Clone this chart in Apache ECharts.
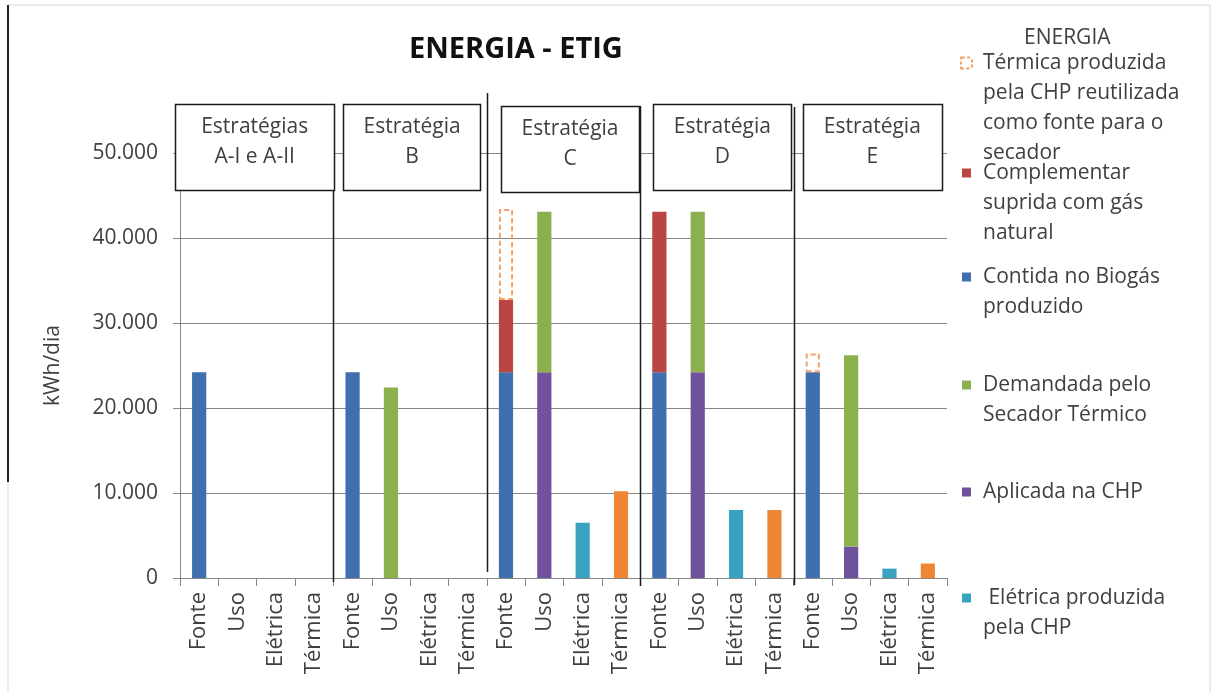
<!DOCTYPE html>
<html>
<head>
<meta charset="utf-8">
<script src="https://cdn.jsdelivr.net/npm/echarts@6/dist/echarts.min.js"></script>
<style>
html,body{margin:0;padding:0;background:#fff;}
#chart{width:1215px;height:693px;}
</style>
</head>
<body>
<div id="chart"></div>
<script>
// ---- data ----
const categories = ['Fonte','Uso','Elétrica','Térmica','Fonte','Uso','Elétrica','Térmica','Fonte','Uso','Elétrica','Térmica','Fonte','Uso','Elétrica','Térmica','Fonte','Uso','Elétrica','Térmica'];
const groupLabels = ['Estratégias\nA-I e A-II','Estratégia\nB','Estratégia\nC','Estratégia\nD','Estratégia\nE'];
const yTicks = [0, 10000, 20000, 30000, 40000, 50000];

const contidaBiogas   = [24200,'-','-','-', 24200,'-','-','-', 24200,'-','-','-', 24200,'-','-','-', 24200,'-','-','-'];
const aplicadaCHP     = ['-','-','-','-', '-','-','-','-', '-',24200,'-','-', '-',24200,'-','-', '-',3700,'-','-'];
const complementar    = ['-','-','-','-', '-','-','-','-', 8500,'-','-','-', 18900,'-','-','-', '-','-','-','-'];
const demandada       = ['-','-','-','-', '-',22400,'-','-', '-',18900,'-','-', '-',18900,'-','-', '-',22500,'-','-'];
const reutilizada     = ['-','-','-','-', '-','-','-','-', 10700,'-','-','-', '-','-','-','-', 2200,'-','-','-'];
const eletrica        = ['-','-','-','-', '-','-','-','-', '-','-',6500,'-', '-','-',8000,'-', '-','-',1100,'-'];
const termica         = ['-','-','-','-', '-','-','-','-', '-','-','-',10200, '-','-','-',8000, '-','-','-',1700];

const names = {
  reut: 'Térmica produzida pela CHP reutilizada como fonte para o secador',
  comp: 'Complementar suprida com gás natural',
  bio:  'Contida no Biogás produzido',
  dem:  'Demandada pelo Secador Térmico',
  apl:  'Aplicada na CHP',
  ele:  ' Elétrica produzida pela CHP',
  ter:  'Térmica produzida pela CHP'
};
const legendLines = {
  reut: ['Térmica produzida','pela CHP reutilizada','como fonte para o','secador'],
  comp: ['Complementar','suprida com gás','natural'],
  bio:  ['Contida no Biogás','produzido'],
  dem:  ['Demandada pelo','Secador Térmico'],
  apl:  ['Aplicada na CHP'],
  ele:  [' Elétrica produzida','pela CHP']
};

// ---- style ----
const FONT = 'Open Sans';
const colors = {
  bio: '#3F6FAC', apl: '#70519B', comp: '#BA4542', dem: '#8CB04E',
  reut: '#F2A46C', ele: '#38A2BF', ter: '#EE8636'
};
const txt = '#404040';
const axisGray = '#868686';

function fmt(v){ return String(v).replace(/\B(?=(\d{3})+(?!\d))/g, '.'); }

function barSeries(key, data, extra){
  return Object.assign({
    name: names[key], type: 'bar', stack: 'total', data: data,
    barWidth: '37%',
    itemStyle: { color: colors[key] },
    emphasis: { disabled: true }
  }, extra || {});
}

const series = [
  barSeries('bio', contidaBiogas),
  barSeries('apl', aplicadaCHP),
  barSeries('comp', complementar),
  barSeries('dem', demandada),
  barSeries('reut', reutilizada, { itemStyle: { color: 'rgba(0,0,0,0)', borderColor: colors.reut, borderWidth: 2, borderType: [5, 3] } }),
  barSeries('ele', eletrica),
  barSeries('ter', termica)
];

const legendOrder = ['reut','comp','bio','dem','apl','ele'];
const legendFirstLineY = [63, 173, 277, 385, 492, 598];
const LH = 30;
const legends = legendOrder.map(function(key, i){
  const sq = key === 'reut'
    ? { width: 9, height: 9, backgroundColor: '#fff', borderColor: colors.reut, borderWidth: 2, borderType: [3, 2], lineHeight: LH }
    : { width: 9, height: 9, backgroundColor: colors[key], lineHeight: LH };
  return {
    show: true,
    data: [names[key]],
    left: 957, top: legendFirstLineY[i] - LH/2,
    padding: 0,
    itemWidth: 0, itemHeight: 0,
    itemStyle: { opacity: 0, borderWidth: 0 },
    selectedMode: false,
    formatter: function(){
      const lines = legendLines[key];
      return lines.map(function(l, j){
        return (j === 0 ? '{sq|}{gap|}' : '{ind|}') + '{t|' + l + '}';
      }).join('\n');
    },
    textStyle: {
      fontFamily: FONT, fontSize: 21, color: txt, lineHeight: LH,
      rich: {
        sq: sq,
        gap: { width: 12, lineHeight: LH },
        ind: { width: 21, lineHeight: LH },
        t: { fontFamily: FONT, fontSize: 21, color: txt, lineHeight: LH }
      }
    }
  };
});

const option = {
  backgroundColor: '#fff',
  animation: false,
  title: [
    { text: 'ENERGIA - ETIG', left: 404, top: 30,
      textStyle: { fontFamily: FONT, fontSize: 29, fontWeight: 'bold', color: '#111' } },
    { text: 'ENERGIA', left: 1019, top: 23,
      textStyle: { fontFamily: FONT, fontSize: 21, fontWeight: 'normal', color: txt } }
  ],
  legend: legends,
  grid: { left: 180, right: 268, top: 153, bottom: 115, containLabel: false },
  xAxis: {
    type: 'category', data: categories,
    axisLine: { show: true, lineStyle: { color: axisGray, width: 1 } },
    axisTick: { show: true, length: 8, interval: 0, lineStyle: { color: axisGray } },
    axisLabel: { interval: 0, rotate: 90, margin: 14, fontFamily: FONT, fontSize: 22, color: txt },
    splitLine: { show: false }
  },
  yAxis: {
    type: 'value', min: yTicks[0], max: yTicks[yTicks.length-1], interval: yTicks[1]-yTicks[0],
    name: 'kWh/dia', nameLocation: 'middle', nameRotate: 90, nameGap: 116,
    nameTextStyle: { fontFamily: FONT, fontSize: 21, color: txt },
    axisLine: { show: true, lineStyle: { color: axisGray, width: 1 } },
    axisTick: { show: true, length: 7, lineStyle: { color: axisGray } },
    axisLabel: { margin: 22, fontFamily: FONT, fontSize: 21, color: txt, formatter: fmt },
    splitLine: { show: true, lineStyle: { color: axisGray, width: 1 } }
  },
  series: series
};

const chart = echarts.init(document.getElementById('chart'), null, { renderer: 'canvas' });
chart.setOption(option);

// ---- annotations: group separators and strategy boxes ----
function buildAnnotations(){
  const c0 = chart.convertToPixel({ xAxisIndex: 0 }, 0);
  const c1 = chart.convertToPixel({ xAxisIndex: 0 }, 1);
  const band = c1 - c0;
  const y0 = chart.convertToPixel({ yAxisIndex: 0 }, yTicks[0]);
  const yTop = chart.convertToPixel({ yAxisIndex: 0 }, yTicks[yTicks.length-1]);
  const nG = groupLabels.length;
  const per = categories.length / nG;
  const edge = function(i){ return c0 - band/2 + i*band; };
  const g = [];
  // outer frame
  g.push({ type: 'rect', shape: { x: 8, y: 5, width: 1202, height: 700 }, style: { fill: null, stroke: '#d9d9d9', lineWidth: 1 }, z: 0, silent: true });
  g.push({ type: 'line', shape: { x1: 8, y1: 5, x2: 8, y2: y0 - 96 }, style: { stroke: '#222', lineWidth: 2 }, z: 1, silent: true });
  // separators
  const sepTop = [yTop - 46, yTop - 60, yTop - 47, yTop - 46];
  const sepBot = [y0 + 4, y0 - 6, y0 + 8, y0 + 7];
  for (let k = 1; k < nG; k++) {
    const x = Math.round(edge(k*per)) + 0.5;
    g.push({ type: 'line', shape: { x1: x, y1: sepTop[k-1], x2: x, y2: sepBot[k-1] }, style: { stroke: '#1a1a1a', lineWidth: 1.5 }, z: 50, silent: true });
  }
  // boxes
  const offL = [-5, 10, 14, 13, 9];
  const offR = [1, -6, -1, -2, -5];
  const dY = [0, 0, 2, 0, 0];
  for (let k = 0; k < nG; k++) {
    const xl = edge(k*per) + offL[k];
    const xr = edge((k+1)*per) + offR[k];
    const top = yTop - 49 + dY[k];
    const h = 86;
    g.push({ type: 'rect', shape: { x: Math.round(xl)+0.5, y: Math.round(top)+0.5, width: Math.round(xr-xl), height: h },
      style: { fill: '#fff', stroke: '#1a1a1a', lineWidth: 1.5 }, z: 60, silent: true });
    g.push({ type: 'text', x: (xl+xr)/2, y: top + 8, z: 61, silent: true,
      style: { text: groupLabels[k], fontFamily: FONT, fontSize: 21, fill: txt, align: 'center', verticalAlign: 'top', lineHeight: 30 } });
  }
  chart.setOption({ graphic: g });
}
buildAnnotations();
</script>
</body>
</html>
